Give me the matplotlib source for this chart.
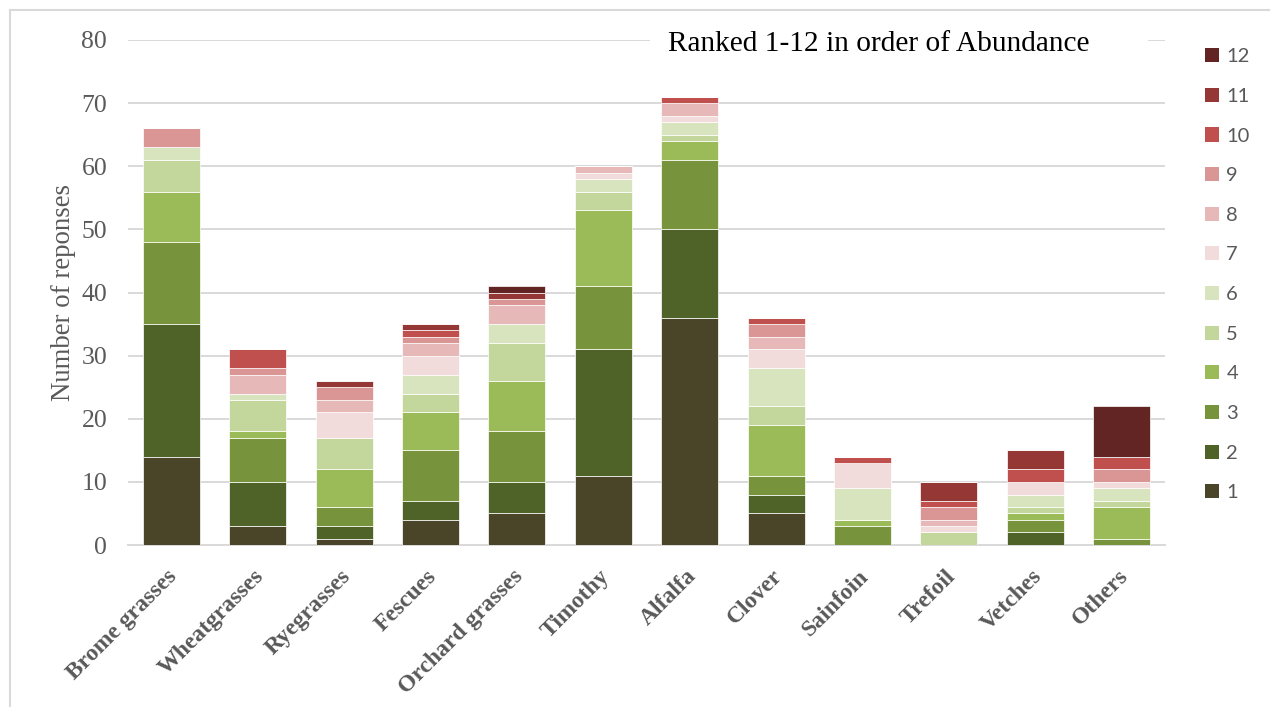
import matplotlib
matplotlib.use("Agg")
import matplotlib.pyplot as plt
from matplotlib.patches import Patch
from matplotlib.lines import Line2D
import numpy as np

categories = ["Brome grasses", "Wheatgrasses", "Ryegrasses", "Fescues",
              "Orchard grasses", "Timothy", "Alfalfa", "Clover", "Sainfoin",
              "Trefoil", "Vetches", "Others"]

# responses per rank (1 = most abundant ... 12 = least), one list per rank
rank1 = [14, 3, 1, 4, 5, 11, 36, 5, 0, 0, 0, 0]
rank2 = [21, 7, 2, 3, 5, 20, 14, 3, 0, 0, 2, 0]
rank3 = [13, 7, 3, 8, 8, 10, 11, 3, 3, 0, 2, 1]
rank4 = [8, 1, 6, 6, 8, 12, 3, 8, 1, 0, 1, 5]
rank5 = [5, 5, 5, 3, 6, 3, 1, 3, 0, 2, 1, 1]
rank6 = [2, 1, 0, 3, 3, 2, 2, 6, 5, 0, 2, 2]
rank7 = [0, 0, 4, 3, 0, 1, 1, 3, 4, 1, 2, 1]
rank8 = [0, 3, 2, 2, 3, 1, 2, 2, 0, 1, 0, 0]
rank9 = [3, 1, 2, 1, 1, 0, 0, 2, 0, 2, 0, 2]
rank10 = [0, 3, 0, 1, 0, 0, 1, 1, 1, 1, 2, 2]
rank11 = [0, 0, 1, 1, 1, 0, 0, 0, 0, 3, 3, 0]
rank12 = [0, 0, 0, 0, 1, 0, 0, 0, 0, 0, 0, 8]

ranks = [rank1, rank2, rank3, rank4, rank5, rank6,
         rank7, rank8, rank9, rank10, rank11, rank12]
rank_labels = [str(i) for i in range(1, 13)]

colors = ["#4a4529", "#4f6228", "#77933c", "#9bbb59", "#c3d69b", "#d7e4bd",
          "#f2dcdb", "#e6b9b8", "#d99694", "#c0504d", "#953735", "#632523"]

yticks = list(range(0, 81, 10))

grey = "#595959"
grid_col = "#d9d9d9"

fig = plt.figure(figsize=(12.7, 7.07), dpi=100)
ax = fig.add_axes([128 / 1270, 1 - 545 / 707, (1165 - 128) / 1270, (545 - 40) / 707])

x = np.arange(len(categories))
bottom = np.zeros(len(categories))
for vals, col, lab in zip(ranks, colors, rank_labels):
    v = np.array(vals, dtype=float)
    ax.bar(x, v, bottom=bottom, width=0.66, color=col, label=lab,
           edgecolor="white", linewidth=0.5, zorder=3)
    bottom += v

ax.set_xlim(-0.5, len(categories) - 0.5)
ax.set_ylim(0, 80)
ax.set_yticks(yticks)
ax.set_yticklabels([str(t) for t in yticks], fontfamily="Liberation Serif",
                   fontsize=18.5, color=grey)
ax.tick_params(axis="y", length=0, pad=15)
ax.tick_params(axis="x", length=0, pad=15)
ax.set_xticks(x - 0.05)
ax.set_xticklabels(categories, rotation=45, ha="right", va="top",
                   rotation_mode="anchor", fontfamily="Liberation Serif",
                   fontweight="bold", fontsize=17, color=grey)

ax.grid(axis="y", color=grid_col, linewidth=1.4, zorder=0)
ax.set_axisbelow(True)
for side in ["top", "right", "left"]:
    ax.spines[side].set_visible(False)
ax.spines["bottom"].set_color(grid_col)
ax.spines["bottom"].set_linewidth(1.4)

ax.set_ylabel("Number of reponses", fontfamily="Liberation Serif",
              fontsize=19.3, color=grey)
ax.yaxis.set_label_coords(-52 / 1037, 0.5)

# title box sitting on top of the uppermost gridline
fig.text(668 / 1270, 1 - 44 / 707, "Ranked 1-12 in order of Abundance",
         fontfamily="Liberation Serif", fontsize=21.2, color="black",
         ha="left", va="center", zorder=10)
# white band covering gridline behind the title
fig.patches.append(plt.Rectangle((650 / 1270, 1 - 60 / 707), (1148 - 650) / 1270,
                                 35 / 707, transform=fig.transFigure,
                                 facecolor="white", edgecolor="none", zorder=5))

handles = [Patch(facecolor=c, edgecolor="none") for c in colors][::-1]
leg = fig.legend(handles, rank_labels[::-1], loc="upper left",
                 bbox_to_anchor=(1187 / 1270, 1 - 30 / 707),
                 frameon=False, handlelength=0.7, handleheight=0.7,
                 handletextpad=0.35, labelspacing=1.12,
                 prop=dict(family="Lato", size=14.5))
for t in leg.get_texts():
    t.set_color(grey)

# outer chart frame
fig.add_artist(Line2D([10 / 1270, 1.0], [1 - 10 / 707, 1 - 10 / 707],
                      transform=fig.transFigure, color=grid_col, linewidth=1.5))
fig.add_artist(Line2D([10 / 1270, 10 / 1270], [0.0, 1 - 10 / 707],
                      transform=fig.transFigure, color=grid_col, linewidth=1.5))

fig.savefig("out.png", dpi=100, facecolor="white")
